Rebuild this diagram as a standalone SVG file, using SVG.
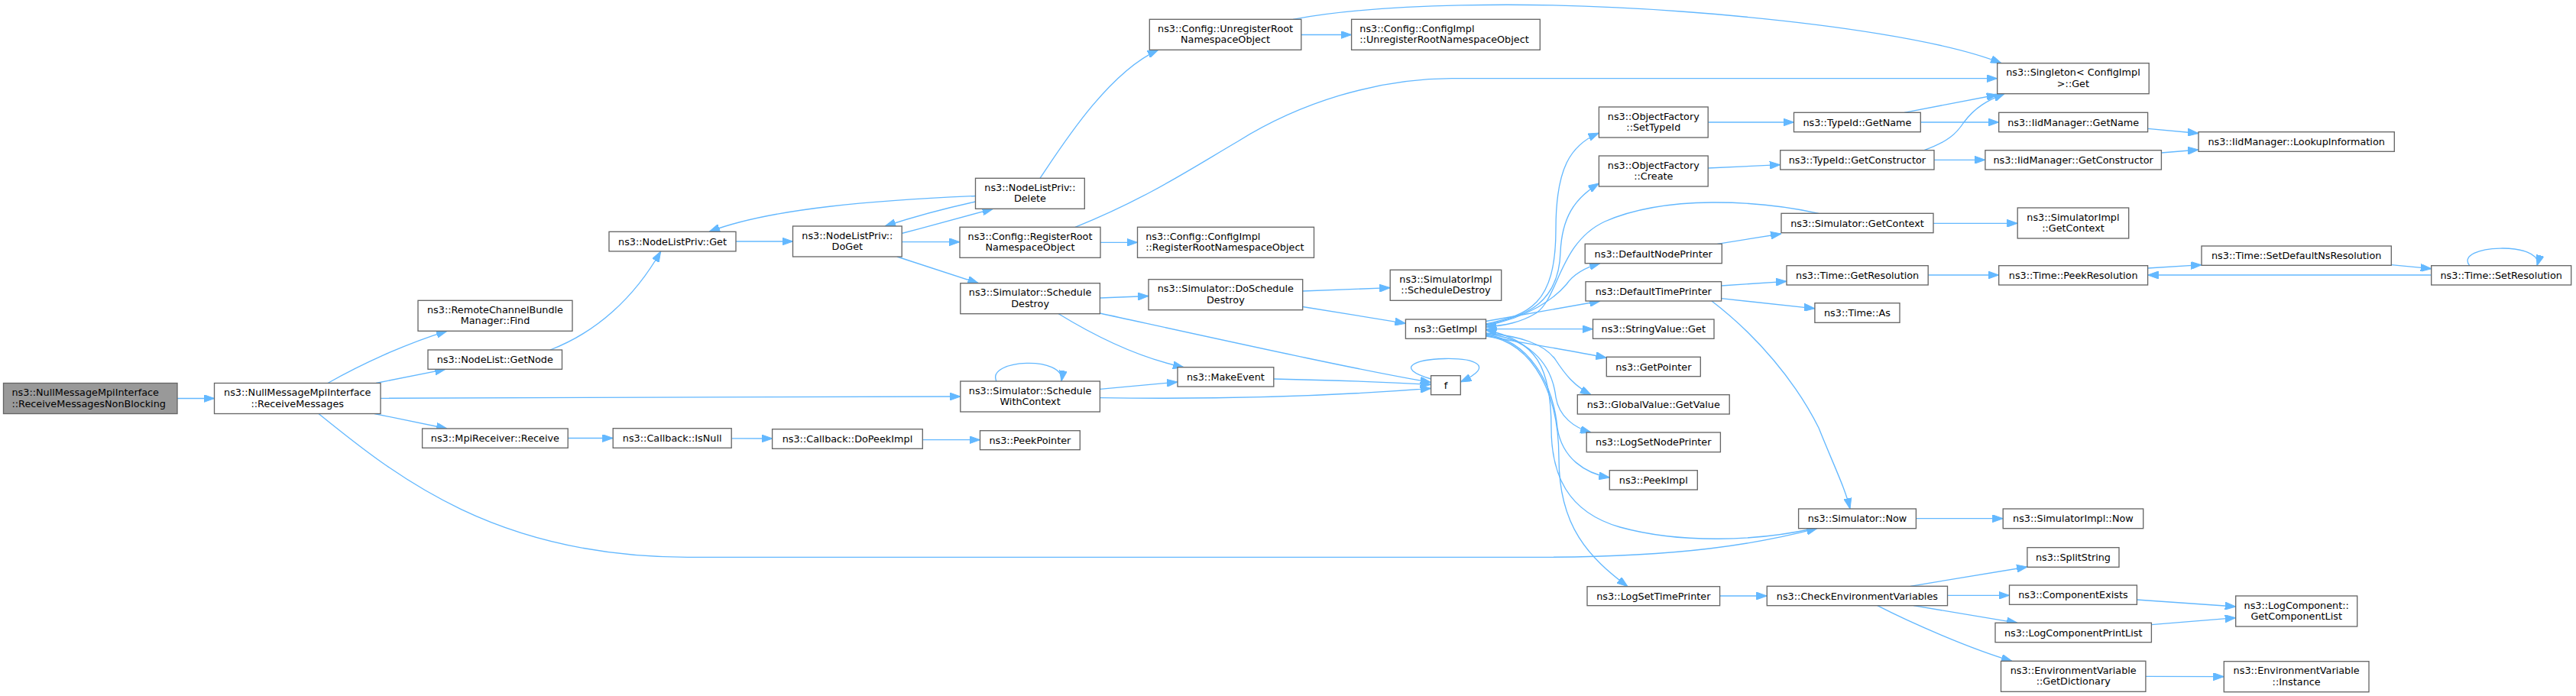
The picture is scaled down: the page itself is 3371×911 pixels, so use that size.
<svg xmlns="http://www.w3.org/2000/svg" width="3371" height="911" viewBox="0 0 3371 911">
<defs>
<style>
.node rect{fill:#ffffff;stroke:#666666;stroke-width:1.33}
.main rect{fill:#999999}
text{font-family:"DejaVu Sans","Noto Sans",sans-serif;font-size:12.8px;fill:#000000}
.c text{text-anchor:middle}
.l text{text-anchor:start}
#edges path{fill:none;stroke:#63b8ff;stroke-width:1.33;marker-end:url(#arr)}
</style>
<marker id="arr" markerUnits="userSpaceOnUse" viewBox="0 0 14 10" markerWidth="14" markerHeight="10" refX="14" refY="5" orient="auto">
<path d="M0,0 L14,5 L0,10 Z" fill="#63b8ff" stroke="#63b8ff" stroke-width="1"/>
</marker>
</defs>
<rect x="0" y="0" width="3371" height="911" fill="#ffffff"/>
<g id="edges">
<path d="M232,521.5 L280.5,521.5"/>
<path d="M429,501.5 C470,478 530,450 585,433.3"/>
<path d="M492,501.5 L583,483.3"/>
<path d="M498,521.3 C700,520.5 1000,519.5 1256.8,519"/>
<path d="M490,541.5 L585,561"/>
<path d="M417,541.5 C520,625 650,729 900,729.3 L2020,729.3 C2200,729 2300,712 2378,691.7"/>
<path d="M720,458 C780,435 830,390 864.7,329"/>
<path d="M963,316 L1037.5,316"/>
<path d="M1180,305.5 C1220,295 1260,284 1299.5,273.3"/>
<path d="M1276.5,264 C1235,273 1195,284 1158,296"/>
<path d="M1276.5,256.5 C1150,262 1010,272 928,303.3"/>
<path d="M1180,316.7 L1256,316.7"/>
<path d="M1174,336 L1280.5,370.7"/>
<path d="M1361,233.3 C1390,190 1450,95 1515.7,65.3"/>
<path d="M1702.8,45.5 L1768.6,45.5"/>
<path d="M1692,25.3 C1800,5 2000,0 2200,15 C2400,30 2550,55 2619,82.7"/>
<path d="M1440,317.3 L1488.5,317.3"/>
<path d="M1407,297.3 C1500,260 1560,220 1620,185 C1700,135 1800,103 1900,102.7 L2613.7,102.7"/>
<path d="M1439.4,390 L1503,387.5"/>
<path d="M1385.3,410.7 C1420,432 1480,466 1549,480.7"/>
<path d="M1439.4,410 C1600,445 1780,485 1872.6,500.5"/>
<path d="M1704.7,381 L1819.2,376.7"/>
<path d="M1704.7,401.5 L1839.4,423.3"/>
<path d="M1304,499 C1290,470 1395,465 1389,499"/>
<path d="M1439.4,509.3 L1541,500"/>
<path d="M1439.4,520.7 C1600,523 1750,518 1872.6,508.3"/>
<path d="M1666.8,496 C1740,497.5 1810,500 1872.6,503.3"/>
<path d="M1872.6,496 C1770,465 2010,455 1911.3,500"/>
<path d="M743.3,573.5 L802.2,573.5"/>
<path d="M957.2,573.8 L1010.6,574"/>
<path d="M1207.3,575.7 L1282.5,575.7"/>
<path d="M1944.5,424 C2000,412 2036,400 2036,300 C2036,220 2055,190 2092.4,174"/>
<path d="M1944.5,425 C2000,414 2040,395 2042,330 C2044,285 2060,260 2092.4,240"/>
<path d="M1944.5,426 C2000,416 2035,390 2050,372 C2060,358 2075,350 2094,344.7"/>
<path d="M2380,279.3 C2300,262 2180,255 2100,290 C2040,318 2040,390 2010,410 C1990,422 1970,426 1944.5,428"/>
<path d="M1944.5,420.5 C1990,412 2040,404 2094,394"/>
<path d="M1944.5,430.7 L2084.5,430.7"/>
<path d="M1944.5,440 C1990,448 2050,458 2102.3,468.3"/>
<path d="M1944.5,436 C1990,440 2020,450 2035,470 C2048,490 2060,505 2082,516.7"/>
<path d="M1944.5,437 C1995,442 2030,470 2036,520 C2040,545 2060,560 2082,566"/>
<path d="M1944.5,438 C2000,445 2032,500 2038,560 C2044,600 2075,620 2106.3,625"/>
<path d="M1944.5,439 C2010,450 2040,520 2040,600 C2040,690 2080,730 2130,767.7"/>
<path d="M2372,692 C2300,708 2200,712 2120,690 C2050,670 2030,620 2030,560 C2030,480 2010,445 1944.5,432"/>
<path d="M2235.2,160 L2347.5,160"/>
<path d="M2235.2,220 L2329.7,215.7"/>
<path d="M2492,147.3 L2613.7,124"/>
<path d="M2513.3,160 L2615.7,160"/>
<path d="M2518,196.7 C2550,185 2560,175 2570,160 C2585,140 2600,132 2623,122.7"/>
<path d="M2531,209.3 L2597.9,209.3"/>
<path d="M2810.6,168.3 L2877,174.5"/>
<path d="M2828.4,200 L2877,196"/>
<path d="M2247.4,319.3 L2331,306"/>
<path d="M2530,292.3 L2640.2,292.3"/>
<path d="M2252.6,374 L2338,368.3"/>
<path d="M2252.6,390.7 L2374.9,403.8"/>
<path d="M2240,394 C2300,440 2350,500 2380,560 C2400,610 2415,640 2421,666"/>
<path d="M2523.2,360 L2615.7,360"/>
<path d="M2810.6,351 L2881,346.7"/>
<path d="M3129.3,346.7 L3181.7,351.7"/>
<path d="M3181.7,360 L2810.6,360"/>
<path d="M3231.7,347.7 C3210,320 3330,315 3320,347.7"/>
<path d="M2507.4,678.7 L2621.2,678.7"/>
<path d="M2250.6,780 L2312.3,780"/>
<path d="M2500,767.3 L2653,742"/>
<path d="M2548.5,779.3 L2629.5,779.3"/>
<path d="M2504,792.7 L2640,815.3"/>
<path d="M2456.8,792.7 C2500,815 2580,850 2633,865.3"/>
<path d="M2796.4,785 L2925.7,794"/>
<path d="M2815.4,817.7 L2925.7,808.7"/>
<path d="M2807.9,885.3 L2910.3,885.7"/>
</g>
<g id="n_main" class="node main l"><rect x="4.5" y="501.5" width="227.5" height="40"/><text x="15.5" y="518">ns3::NullMessageMpiInterface</text><text x="15.5" y="532.5">::ReceiveMessagesNonBlocking</text></g>
<g id="n_rm" class="node c"><rect x="280.5" y="501.5" width="217.5" height="40"/><text x="389.25" y="518">ns3::NullMessageMpiInterface</text><text x="389.25" y="532.5">::ReceiveMessages</text></g>
<g id="n_find" class="node c"><rect x="547" y="393.3" width="202" height="40"/><text x="648" y="409.8">ns3::RemoteChannelBundle</text><text x="648" y="424.3">Manager::Find</text></g>
<g id="n_getnode" class="node c"><rect x="560" y="458" width="175.5" height="25.3"/><text x="647.75" y="475.2">ns3::NodeList::GetNode</text></g>
<g id="n_receive" class="node c"><rect x="552.6" y="561" width="190.6" height="25.3"/><text x="647.9" y="578.2">ns3::MpiReceiver::Receive</text></g>
<g id="n_nlpget" class="node c"><rect x="797" y="303.3" width="166" height="25.6"/><text x="880" y="320.6">ns3::NodeListPriv::Get</text></g>
<g id="n_doget" class="node c"><rect x="1037.5" y="296" width="142.7" height="40"/><text x="1108.85" y="312.5">ns3::NodeListPriv::</text><text x="1108.85" y="327">DoGet</text></g>
<g id="n_delete" class="node c"><rect x="1276.5" y="233.3" width="142.8" height="40"/><text x="1347.9" y="249.8">ns3::NodeListPriv::</text><text x="1347.9" y="264.3">Delete</text></g>
<g id="n_unreg" class="node c"><rect x="1504.3" y="25.3" width="198.5" height="40"/><text x="1603.55" y="41.8">ns3::Config::UnregisterRoot</text><text x="1603.55" y="56.3">NamespaceObject</text></g>
<g id="n_cfgunreg" class="node l"><rect x="1768.6" y="25.3" width="246.7" height="40"/><text x="1779.3" y="41.8">ns3::Config::ConfigImpl</text><text x="1779.3" y="56.3">::UnregisterRootNamespaceObject</text></g>
<g id="n_reg" class="node c"><rect x="1256" y="297.3" width="184" height="40"/><text x="1348" y="313.8">ns3::Config::RegisterRoot</text><text x="1348" y="328.3">NamespaceObject</text></g>
<g id="n_cfgreg" class="node l"><rect x="1488.5" y="297.3" width="231" height="40"/><text x="1499.2" y="313.8">ns3::Config::ConfigImpl</text><text x="1499.2" y="328.3">::RegisterRootNamespaceObject</text></g>
<g id="n_schdestroy" class="node c"><rect x="1256.8" y="370.7" width="182.6" height="40"/><text x="1348.1" y="387.2">ns3::Simulator::Schedule</text><text x="1348.1" y="401.7">Destroy</text></g>
<g id="n_doschdestroy" class="node c"><rect x="1503" y="365.7" width="201.7" height="40"/><text x="1603.85" y="382.2">ns3::Simulator::DoSchedule</text><text x="1603.85" y="396.7">Destroy</text></g>
<g id="n_swc" class="node c"><rect x="1256.8" y="499" width="182.6" height="40"/><text x="1348.1" y="515.5">ns3::Simulator::Schedule</text><text x="1348.1" y="530">WithContext</text></g>
<g id="n_makeevent" class="node c"><rect x="1541" y="480.7" width="125.8" height="25.3"/><text x="1603.9" y="497.9">ns3::MakeEvent</text></g>
<g id="n_isnull" class="node c"><rect x="802.2" y="560.7" width="155" height="25.6"/><text x="879.7" y="578">ns3::Callback::IsNull</text></g>
<g id="n_dopeek" class="node c"><rect x="1010.6" y="561.7" width="196.7" height="25.6"/><text x="1108.95" y="579">ns3::Callback::DoPeekImpl</text></g>
<g id="n_peekptr" class="node c"><rect x="1282.5" y="563.7" width="130.8" height="25"/><text x="1347.9" y="580.7">ns3::PeekPointer</text></g>
<g id="n_simimplsd" class="node c"><rect x="1819.2" y="353.3" width="145.5" height="40"/><text x="1891.95" y="369.8">ns3::SimulatorImpl</text><text x="1891.95" y="384.3">::ScheduleDestroy</text></g>
<g id="n_getimpl" class="node c"><rect x="1839.4" y="418" width="105.1" height="25.3"/><text x="1891.95" y="435.2">ns3::GetImpl</text></g>
<g id="n_f" class="node c"><rect x="1872.6" y="491.7" width="38.7" height="25"/><text x="1891.95" y="508.7">f</text></g>
<g id="n_settypeid" class="node c"><rect x="2092.4" y="140" width="142.8" height="40"/><text x="2163.8" y="156.5">ns3::ObjectFactory</text><text x="2163.8" y="171">::SetTypeId</text></g>
<g id="n_create" class="node c"><rect x="2092.4" y="204" width="142.8" height="40"/><text x="2163.8" y="220.5">ns3::ObjectFactory</text><text x="2163.8" y="235">::Create</text></g>
<g id="n_defnode" class="node c"><rect x="2074.2" y="319.3" width="179.1" height="25.4"/><text x="2163.75" y="336.5">ns3::DefaultNodePrinter</text></g>
<g id="n_deftime" class="node c"><rect x="2075" y="368.7" width="177.6" height="25.3"/><text x="2163.8" y="385.9">ns3::DefaultTimePrinter</text></g>
<g id="n_strget" class="node c"><rect x="2084.5" y="418" width="158.5" height="25.3"/><text x="2163.75" y="435.2">ns3::StringValue::Get</text></g>
<g id="n_getptr" class="node c"><rect x="2102.3" y="467.3" width="123" height="25.4"/><text x="2163.8" y="484.5">ns3::GetPointer</text></g>
<g id="n_gvget" class="node c"><rect x="2064.3" y="516.7" width="198.9" height="25.3"/><text x="2163.75" y="533.9">ns3::GlobalValue::GetValue</text></g>
<g id="n_logsnp" class="node c"><rect x="2076.2" y="566" width="175.2" height="25.7"/><text x="2163.8" y="583.4">ns3::LogSetNodePrinter</text></g>
<g id="n_peekimpl" class="node c"><rect x="2106.3" y="615.7" width="115" height="25.3"/><text x="2163.8" y="632.9">ns3::PeekImpl</text></g>
<g id="n_logstp" class="node c"><rect x="2077" y="767.7" width="173.6" height="25"/><text x="2163.8" y="784.7">ns3::LogSetTimePrinter</text></g>
<g id="n_tidname" class="node c"><rect x="2347.5" y="147.3" width="165.8" height="25.4"/><text x="2430.4" y="164.5">ns3::TypeId::GetName</text></g>
<g id="n_tidctor" class="node c"><rect x="2329.7" y="196.7" width="201.3" height="25.3"/><text x="2430.35" y="213.9">ns3::TypeId::GetConstructor</text></g>
<g id="n_simgetctx" class="node c"><rect x="2331" y="279.3" width="199" height="25.4"/><text x="2430.5" y="296.5">ns3::Simulator::GetContext</text></g>
<g id="n_getres" class="node c"><rect x="2338" y="347.7" width="185.2" height="25.3"/><text x="2430.6" y="364.9">ns3::Time::GetResolution</text></g>
<g id="n_timeas" class="node c"><rect x="2374.9" y="396.7" width="111.1" height="25.6"/><text x="2430.45" y="414">ns3::Time::As</text></g>
<g id="n_now" class="node c"><rect x="2353.6" y="666" width="153.8" height="25.7"/><text x="2430.5" y="683.4">ns3::Simulator::Now</text></g>
<g id="n_cev" class="node c"><rect x="2312.3" y="767.3" width="236.2" height="25.4"/><text x="2430.4" y="784.5">ns3::CheckEnvironmentVariables</text></g>
<g id="n_singleton" class="node c"><rect x="2613.7" y="82.7" width="198.5" height="40"/><text x="2712.95" y="99.2">ns3::Singleton&lt; ConfigImpl</text><text x="2712.95" y="113.7">&gt;::Get</text></g>
<g id="n_iidname" class="node c"><rect x="2615.7" y="147.3" width="194.9" height="25.4"/><text x="2713.15" y="164.5">ns3::IidManager::GetName</text></g>
<g id="n_iidctor" class="node c"><rect x="2597.9" y="196.7" width="230.5" height="25.3"/><text x="2713.15" y="213.9">ns3::IidManager::GetConstructor</text></g>
<g id="n_simimplctx" class="node c"><rect x="2640.2" y="272" width="145.5" height="40"/><text x="2712.95" y="288.5">ns3::SimulatorImpl</text><text x="2712.95" y="303">::GetContext</text></g>
<g id="n_peekres" class="node c"><rect x="2615.7" y="347.7" width="194.9" height="25.3"/><text x="2713.15" y="364.9">ns3::Time::PeekResolution</text></g>
<g id="n_simimplnow" class="node c"><rect x="2621.2" y="666" width="183.5" height="25.7"/><text x="2712.95" y="683.4">ns3::SimulatorImpl::Now</text></g>
<g id="n_split" class="node c"><rect x="2652.9" y="716.7" width="120.1" height="25.6"/><text x="2712.95" y="734">ns3::SplitString</text></g>
<g id="n_compexists" class="node c"><rect x="2629.5" y="766" width="166.9" height="25.3"/><text x="2712.95" y="783.2">ns3::ComponentExists</text></g>
<g id="n_lcpl" class="node c"><rect x="2611" y="815.3" width="204.4" height="25.4"/><text x="2713.2" y="832.5">ns3::LogComponentPrintList</text></g>
<g id="n_getdict" class="node c"><rect x="2618.5" y="865.3" width="189.4" height="40"/><text x="2713.2" y="881.8">ns3::EnvironmentVariable</text><text x="2713.2" y="896.3">::GetDictionary</text></g>
<g id="n_lookup" class="node c"><rect x="2877" y="172.7" width="256.3" height="25.6"/><text x="3005.15" y="190">ns3::IidManager::LookupInformation</text></g>
<g id="n_setdefns" class="node c"><rect x="2881" y="322" width="248.3" height="25.3"/><text x="3005.15" y="339.2">ns3::Time::SetDefaultNsResolution</text></g>
<g id="n_setres" class="node c"><rect x="3181.7" y="347.7" width="183" height="25.3"/><text x="3273.2" y="364.9">ns3::Time::SetResolution</text></g>
<g id="n_getcomplist" class="node c"><rect x="2925.7" y="780" width="159" height="40"/><text x="3005.2" y="796.5">ns3::LogComponent::</text><text x="3005.2" y="811">GetComponentList</text></g>
<g id="n_envinst" class="node c"><rect x="2910.3" y="865.7" width="189.7" height="40"/><text x="3005.15" y="882.2">ns3::EnvironmentVariable</text><text x="3005.15" y="896.7">::Instance</text></g>
</svg>
